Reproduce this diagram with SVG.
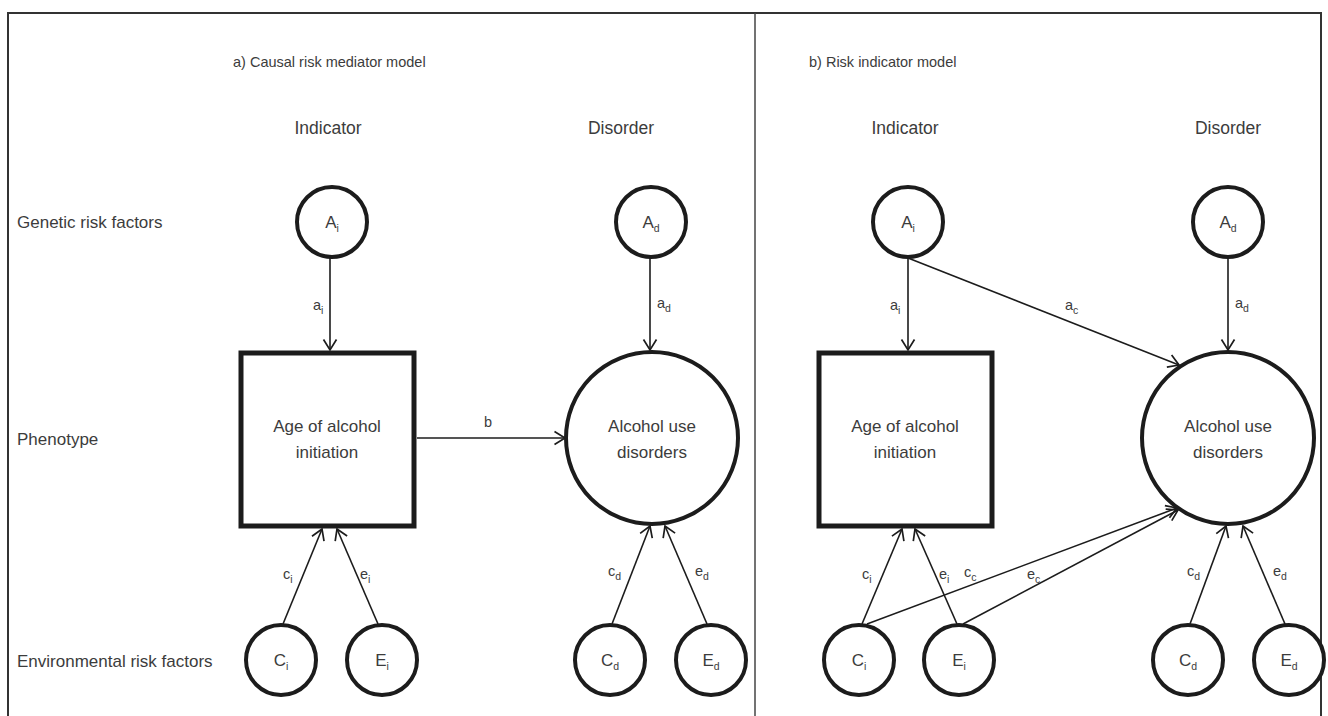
<svg xmlns="http://www.w3.org/2000/svg" width="1328" height="716" viewBox="0 0 1328 716">
<style>
text{font-family:"Liberation Sans",Arial,sans-serif;fill:#3c3c3c}
.title{font-size:14.5px}
.col{font-size:17.5px}
.row{font-size:17px}
.nl{font-size:17px}
.cl{font-size:17px}
.el{font-size:14.5px}
.sub{font-size:10.5px}
.node{fill:#fff;stroke:#1c1c1c;stroke-width:4}
.box{fill:#fff;stroke:#1c1c1c;stroke-width:5}
.arr{stroke:#1c1c1c;stroke-width:1.6;fill:none;marker-end:url(#ah)}
</style>
<defs>
<marker id="ah" markerUnits="userSpaceOnUse" markerWidth="16" markerHeight="16" viewBox="0 0 16 16" refX="12" refY="8" orient="auto">
<path d="M1.5,1.5 L12,8 L1.5,14.5" fill="none" stroke="#1c1c1c" stroke-width="1.7"/>
</marker>
</defs>
<rect width="1328" height="716" fill="#fff"/>
<g id="frame">
<rect x="8" y="13" width="1313" height="720" fill="none" stroke="#333" stroke-width="2"/>
<line x1="755" y1="13" x2="755" y2="716" stroke="#444" stroke-width="1.5"/>
</g>
<g id="labels">
<text class="title" x="233" y="67">a) Causal risk mediator model</text>
<text class="title" x="809" y="67">b) Risk indicator model</text>
<text class="col" x="328" y="134" text-anchor="middle">Indicator</text>
<text class="col" x="621" y="134" text-anchor="middle">Disorder</text>
<text class="col" x="905" y="134" text-anchor="middle">Indicator</text>
<text class="col" x="1228" y="134" text-anchor="middle">Disorder</text>
<text class="row" x="17" y="228">Genetic risk factors</text>
<text class="row" x="17" y="445">Phenotype</text>
<text class="row" x="17" y="667">Environmental risk factors</text>
</g>
<g id="connectors">
<line class="arr" x1="330" y1="258" x2="330" y2="350"/>
<line class="arr" x1="650" y1="258" x2="650" y2="350"/>
<line class="arr" x1="417" y1="438" x2="565" y2="438"/>
<line class="arr" x1="283" y1="624" x2="322" y2="529"/>
<line class="arr" x1="378" y1="624" x2="337" y2="529"/>
<line class="arr" x1="612" y1="624" x2="650" y2="526"/>
<line class="arr" x1="707" y1="624" x2="665" y2="526"/>
<line class="arr" x1="908" y1="258" x2="908" y2="350"/>
<line class="arr" x1="908" y1="258" x2="1179" y2="365"/>
<line class="arr" x1="1228" y1="258" x2="1228" y2="350"/>
<line class="arr" x1="862" y1="624" x2="902" y2="529"/>
<line class="arr" x1="957" y1="624" x2="915" y2="529"/>
<line class="arr" x1="867" y1="624" x2="1177" y2="508"/>
<line class="arr" x1="963" y1="624" x2="1178" y2="510"/>
<line class="arr" x1="1190" y1="624" x2="1226" y2="526"/>
<line class="arr" x1="1285" y1="624" x2="1243" y2="526"/>
<text class="el" x="313" y="310">a<tspan class="sub" dy="4">i</tspan></text>
<text class="el" x="657" y="308">a<tspan class="sub" dy="4">d</tspan></text>
<text class="el" x="484" y="427">b</text>
<text class="el" x="283" y="579">c<tspan class="sub" dy="4">i</tspan></text>
<text class="el" x="360" y="579">e<tspan class="sub" dy="4">i</tspan></text>
<text class="el" x="608" y="576">c<tspan class="sub" dy="4">d</tspan></text>
<text class="el" x="695" y="576">e<tspan class="sub" dy="4">d</tspan></text>
<text class="el" x="890" y="310">a<tspan class="sub" dy="4">i</tspan></text>
<text class="el" x="1065" y="310">a<tspan class="sub" dy="4">c</tspan></text>
<text class="el" x="1235" y="308">a<tspan class="sub" dy="4">d</tspan></text>
<text class="el" x="862" y="579">c<tspan class="sub" dy="4">i</tspan></text>
<text class="el" x="939" y="579">e<tspan class="sub" dy="4">i</tspan></text>
<text class="el" x="964" y="577">c<tspan class="sub" dy="4">c</tspan></text>
<text class="el" x="1027" y="579">e<tspan class="sub" dy="4">c</tspan></text>
<text class="el" x="1187" y="576">c<tspan class="sub" dy="4">d</tspan></text>
<text class="el" x="1273" y="576">e<tspan class="sub" dy="4">d</tspan></text>
</g>
<g id="a-Ai"><circle class="node" cx="332" cy="222" r="35"/><text class="cl" x="332" y="228" text-anchor="middle">A<tspan class="sub" dy="4">i</tspan></text></g>
<g id="a-Ad"><circle class="node" cx="651" cy="222" r="35"/><text class="cl" x="651" y="228" text-anchor="middle">A<tspan class="sub" dy="4">d</tspan></text></g>
<g id="a-age"><rect class="box" x="241" y="353" width="173" height="173"/><text class="nl" x="327" y="432" text-anchor="middle">Age of alcohol</text><text class="nl" x="327" y="458" text-anchor="middle">initiation</text></g>
<g id="a-aud"><circle class="node" cx="652" cy="438" r="86"/><text class="nl" x="652" y="432" text-anchor="middle">Alcohol use</text><text class="nl" x="652" y="458" text-anchor="middle">disorders</text></g>
<g id="a-Ci"><circle class="node" cx="281" cy="660" r="35"/><text class="cl" x="281" y="666" text-anchor="middle">C<tspan class="sub" dy="4">i</tspan></text></g>
<g id="a-Ei"><circle class="node" cx="382" cy="660" r="35"/><text class="cl" x="382" y="666" text-anchor="middle">E<tspan class="sub" dy="4">i</tspan></text></g>
<g id="a-Cd"><circle class="node" cx="610" cy="660" r="35"/><text class="cl" x="610" y="666" text-anchor="middle">C<tspan class="sub" dy="4">d</tspan></text></g>
<g id="a-Ed"><circle class="node" cx="711" cy="660" r="35"/><text class="cl" x="711" y="666" text-anchor="middle">E<tspan class="sub" dy="4">d</tspan></text></g>
<g id="b-Ai"><circle class="node" cx="908" cy="222" r="35"/><text class="cl" x="908" y="228" text-anchor="middle">A<tspan class="sub" dy="4">i</tspan></text></g>
<g id="b-Ad"><circle class="node" cx="1228" cy="222" r="35"/><text class="cl" x="1228" y="228" text-anchor="middle">A<tspan class="sub" dy="4">d</tspan></text></g>
<g id="b-age"><rect class="box" x="819" y="353" width="173" height="173"/><text class="nl" x="905" y="432" text-anchor="middle">Age of alcohol</text><text class="nl" x="905" y="458" text-anchor="middle">initiation</text></g>
<g id="b-aud"><circle class="node" cx="1228" cy="438" r="86"/><text class="nl" x="1228" y="432" text-anchor="middle">Alcohol use</text><text class="nl" x="1228" y="458" text-anchor="middle">disorders</text></g>
<g id="b-Ci"><circle class="node" cx="859" cy="660" r="35"/><text class="cl" x="859" y="666" text-anchor="middle">C<tspan class="sub" dy="4">i</tspan></text></g>
<g id="b-Ei"><circle class="node" cx="959" cy="660" r="35"/><text class="cl" x="959" y="666" text-anchor="middle">E<tspan class="sub" dy="4">i</tspan></text></g>
<g id="b-Cd"><circle class="node" cx="1188" cy="660" r="35"/><text class="cl" x="1188" y="666" text-anchor="middle">C<tspan class="sub" dy="4">d</tspan></text></g>
<g id="b-Ed"><circle class="node" cx="1289" cy="660" r="35"/><text class="cl" x="1289" y="666" text-anchor="middle">E<tspan class="sub" dy="4">d</tspan></text></g>
</svg>
